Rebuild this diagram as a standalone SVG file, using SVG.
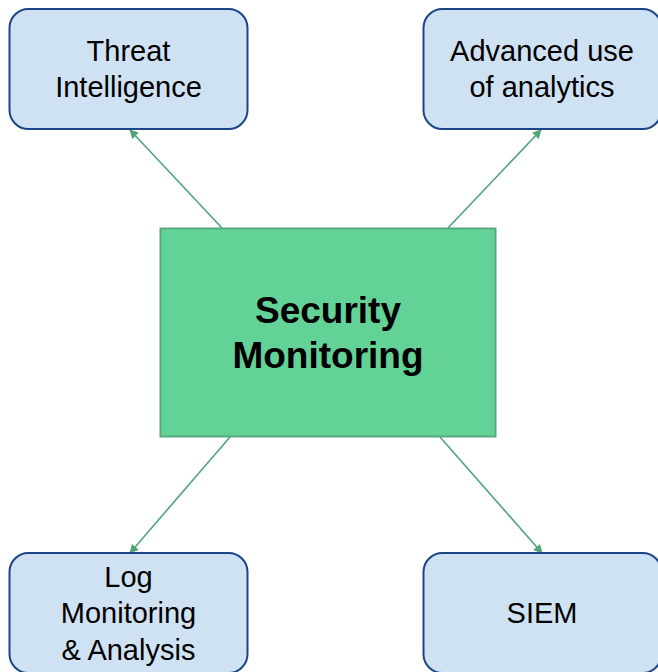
<svg xmlns="http://www.w3.org/2000/svg" width="658" height="672" viewBox="0 0 658 672">
<defs>
<style>
.box{fill:#cfe2f3;stroke:#1c4587;stroke-width:2}
.lbl{font-family:"Liberation Sans",Arial,sans-serif;font-size:29px;fill:#000;text-anchor:middle}
.main{font-family:"Liberation Sans",Arial,sans-serif;font-size:37px;font-weight:bold;fill:#000;text-anchor:middle}
.conn{stroke:#4fa578;stroke-width:1.6;fill:none;marker-end:url(#arr)}
</style>
<marker id="arr" viewBox="0 0 10 10" refX="9" refY="5" markerWidth="10" markerHeight="9" markerUnits="userSpaceOnUse" orient="auto">
<path d="M0,0 L10,5 L0,10 z" fill="#4fa578"/>
</marker>
</defs>
<rect width="658" height="672" fill="#ffffff"/>
<g id="connectors">
<line class="conn" x1="222" y1="228" x2="130" y2="130"/>
<line class="conn" x1="448" y1="228" x2="541" y2="130"/>
<line class="conn" x1="230" y1="437" x2="130" y2="553"/>
<line class="conn" x1="440" y1="437" x2="542" y2="553"/>
</g>
<g id="security-monitoring">
<rect x="160.5" y="228.5" width="335" height="208" fill="#63d297" stroke="#56a97c" stroke-width="2"/>
<text class="main" x="328" y="323">Security</text>
<text class="main" x="328" y="368">Monitoring</text>
</g>
<g id="threat-intelligence">
<rect class="box" x="9.5" y="9" width="238" height="120" rx="19"/>
<text class="lbl" x="128.5" y="61">Threat</text>
<text class="lbl" x="128.5" y="97">Intelligence</text>
</g>
<g id="advanced-analytics">
<rect class="box" x="423.5" y="9" width="238" height="120" rx="19"/>
<text class="lbl" x="542" y="61">Advanced use</text>
<text class="lbl" x="542" y="97">of analytics</text>
</g>
<g id="log-monitoring">
<rect class="box" x="9.5" y="553" width="238" height="120" rx="19"/>
<text class="lbl" x="128.5" y="587">Log</text>
<text class="lbl" x="128.5" y="623">Monitoring</text>
<text class="lbl" x="128.5" y="660">&amp; Analysis</text>
</g>
<g id="siem">
<rect class="box" x="423.5" y="553" width="238" height="120" rx="19"/>
<text class="lbl" x="542" y="623">SIEM</text>
</g>
</svg>
